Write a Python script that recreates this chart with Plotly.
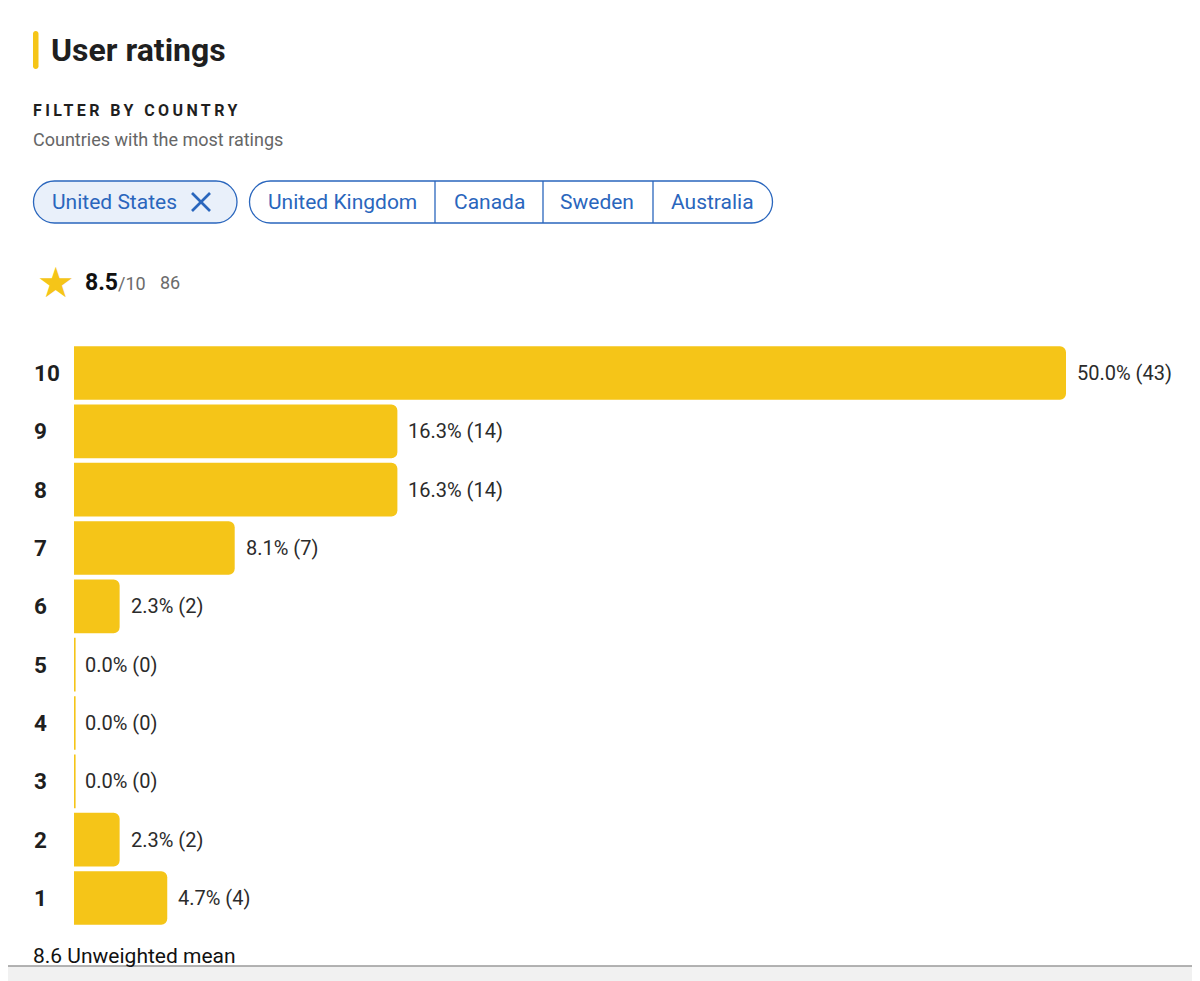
import plotly.graph_objects as go

# page body has an 8px margin, so the figure starts at (8, 8) in the window
OFF = 8
W, H = 1200 - OFF, 981 - OFF

ratings = [10, 9, 8, 7, 6, 5, 4, 3, 2, 1]
percents = [50.0, 16.3, 16.3, 8.1, 2.3, 0.0, 0.0, 0.0, 2.3, 4.7]
counts = [43, 14, 14, 7, 2, 0, 0, 0, 2, 4]

countries = ["United States", "United Kingdom", "Canada", "Sweden", "Australia"]
selected_country = "United States"
weighted_mean = 8.5
unweighted_mean = 8.6
total_votes = 86

YELLOW = "#F5C518"
BLUE = "#2A66BD"
DARK = "#1F1F1F"
FONT = "Roboto"


def px(x):
    return (x - OFF) / W


def py(y):
    return 1 - (y - OFF) / H


def rounded_rect(x0, y0, x1, y1, r):
    # cubic-bezier rounded rectangle, given in window pixels, returned in paper units
    k = 0.5523 * r
    pts = [
        ("M", [(x0 + r, y0)]),
        ("L", [(x1 - r, y0)]),
        ("C", [(x1 - r + k, y0), (x1, y0 + r - k), (x1, y0 + r)]),
        ("L", [(x1, y1 - r)]),
        ("C", [(x1, y1 - r + k), (x1 - r + k, y1), (x1 - r, y1)]),
        ("L", [(x0 + r, y1)]),
        ("C", [(x0 + r - k, y1), (x0, y1 - r + k), (x0, y1 - r)]),
        ("L", [(x0, y0 + r)]),
        ("C", [(x0, y0 + r - k), (x0 + r - k, y0), (x0 + r, y0)]),
    ]
    out = []
    for cmd, ps in pts:
        out.append(cmd + " " + " ".join(f"{px(a):.5f},{py(b):.5f}" for a, b in ps))
    return " ".join(out) + " Z"


fig = go.Figure()

fig.add_trace(go.Bar(
    x=percents, y=ratings, orientation="h",
    marker=dict(color=YELLOW, cornerradius=6, line=dict(width=0)),
    width=0.92, hoverinfo="skip", showlegend=False,
))

shapes = []
annotations = []

# value labels, row labels, and thin lines for empty rows
for r, p, c in zip(ratings, percents, counts):
    annotations.append(dict(
        x=p, y=r, xref="x", yref="y", text=f"{p:.1f}% ({c})",
        xanchor="left", yanchor="middle", xshift=11, showarrow=False,
        font=dict(family=FONT, size=20, color="#2B2B2B"),
    ))
    annotations.append(dict(
        x=px(33.5), y=r, xref="paper", yref="y", text=f"<b>{r}</b>",
        xanchor="left", yanchor="middle", showarrow=False,
        font=dict(family=FONT, size=22.5, color=DARK),
    ))
    if p == 0:
        shapes.append(dict(
            type="line", xref="x", yref="y", x0=0.03, x1=0.03,
            y0=r - 0.46, y1=r + 0.46, line=dict(color=YELLOW, width=2),
        ))

# header accent bar
shapes.append(dict(type="path", xref="paper", yref="paper",
                   path=rounded_rect(33, 31, 38.5, 69, 2.7),
                   fillcolor=YELLOW, line=dict(width=0)))

annotations += [
    dict(x=px(50.5), y=py(50), text="<b>User ratings</b>",
         font=dict(family=FONT, size=32, color=DARK)),
    dict(x=px(33), y=py(110),
         text='<b><span style="letter-spacing:3.4px">FILTER BY COUNTRY</span></b>',
         font=dict(family=FONT, size=16, color=DARK)),
    dict(x=px(33), y=py(140), text="Countries with the most ratings",
         font=dict(family=FONT, size=18, color="#666666")),
]

# country chips
shapes.append(dict(type="path", xref="paper", yref="paper",
                   path=rounded_rect(33.5, 181, 237, 223, 21),
                   fillcolor="#E9F0FA", line=dict(color=BLUE, width=1.3)))
annotations.append(dict(x=px(51.5), y=py(202), text=selected_country,
                        font=dict(family=FONT, size=21, color=BLUE)))
for a, b in [((192, 193), (210, 211)), ((192, 211), (210, 193))]:
    shapes.append(dict(type="line", xref="paper", yref="paper",
                       x0=px(a[0]), y0=py(a[1]), x1=px(b[0]), y1=py(b[1]),
                       line=dict(color=BLUE, width=2.6)))

shapes.append(dict(type="path", xref="paper", yref="paper",
                   path=rounded_rect(249.5, 181, 772.5, 223, 21),
                   fillcolor="white", line=dict(color=BLUE, width=1.3)))
dividers = [435, 543, 653]
for d in dividers:
    shapes.append(dict(type="line", xref="paper", yref="paper",
                       x0=px(d), x1=px(d), y0=py(181), y1=py(223),
                       line=dict(color=BLUE, width=1.3)))
chip_centers = [342, 489, 597, 712]
for name, cx in zip(countries[1:], chip_centers):
    annotations.append(dict(x=px(cx), y=py(202), text=name, xanchor="center",
                            font=dict(family=FONT, size=21, color=BLUE)))

# overall rating
annotations += [
    dict(x=px(56), y=py(282), text="★", xanchor="center",
         font=dict(family="DejaVu Sans", size=42, color=YELLOW)),
    dict(x=px(84.5), y=py(282),
         text=f'<b>{weighted_mean}</b><span style="color:#6B6B6B;font-size:18px">/10</span>',
         font=dict(family=FONT, size=23, color="#111111")),
    dict(x=px(159.5), y=py(282), text=str(total_votes),
         font=dict(family=FONT, size=18, color="#6B6B6B")),
    dict(x=px(33), y=py(956), text=f"{unweighted_mean} Unweighted mean",
         font=dict(family=FONT, size=21, color="#111111")),
]

for a in annotations:
    a.setdefault("xref", "paper")
    a.setdefault("yref", "paper")
    a.setdefault("xanchor", "left")
    a.setdefault("yanchor", "middle")
    a.setdefault("showarrow", False)
    a["borderpad"] = 0
    a["borderwidth"] = 0

# browser bottom strip
shapes.append(dict(type="rect", xref="paper", yref="paper",
                   x0=0, x1=1, y0=0, y1=py(966), fillcolor="#F1F1F1",
                   line=dict(width=0), layer="above"))
shapes.append(dict(type="line", xref="paper", yref="paper",
                   x0=0, x1=1, y0=py(966), y1=py(966),
                   line=dict(color="#9A9A9A", width=1.5), layer="above"))

fig.update_layout(
    width=W, height=H,
    margin=dict(l=0, r=0, t=0, b=0),
    paper_bgcolor="white", plot_bgcolor="white",
    xaxis=dict(domain=[px(74), 1], range=[0, (1200 - 74) / 19.84], visible=False,
               fixedrange=True),
    yaxis=dict(domain=[py(927.2), py(343.8)], range=[0.5, 10.5], visible=False,
               fixedrange=True),
    shapes=shapes, annotations=annotations,
    font=dict(family=FONT),
)

fig.write_html("out.html")
